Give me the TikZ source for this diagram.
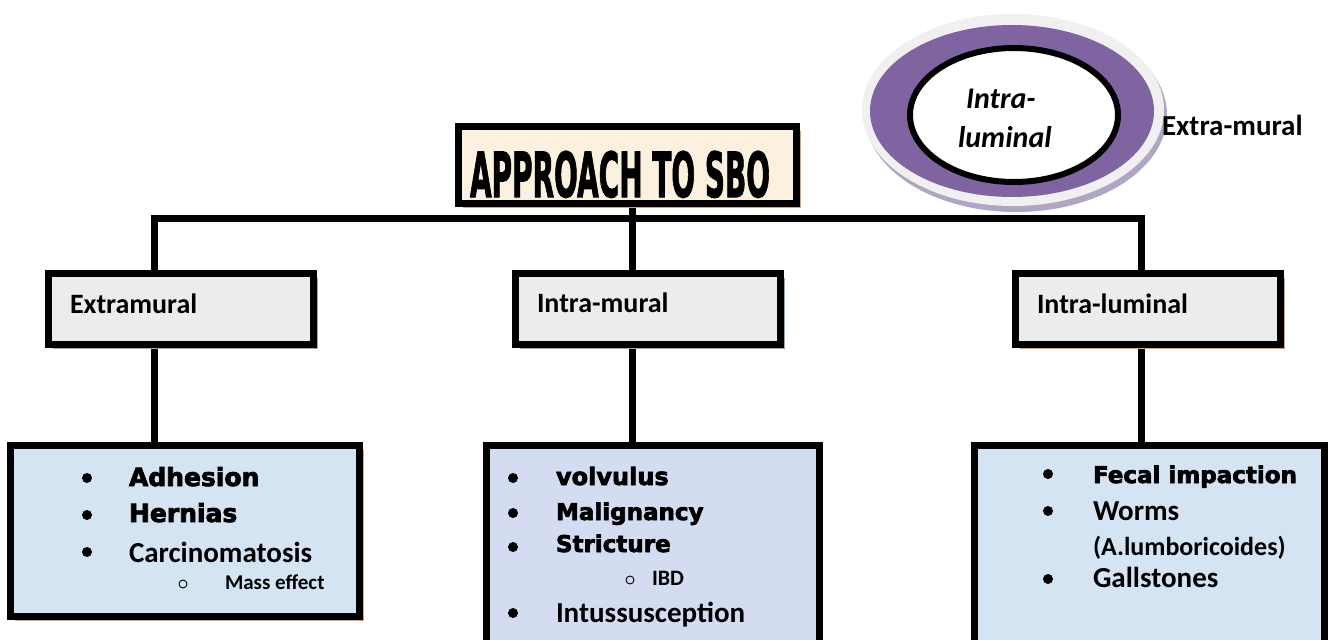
\documentclass[tikz,border=0pt]{standalone}
\usepackage{fontspec}
\usetikzlibrary{shadows,backgrounds}
\newfontfamily\calfont{Carlito}
\newfontfamily\heavyfont[FakeBold=3]{DejaVu Sans Bold}
\newfontfamily\titlefont[FakeBold=2]{DejaVu Sans Bold}
\definecolor{cream}{RGB}{252,240,222}
\definecolor{tanshadow}{RGB}{208,164,128}
\definecolor{greybox}{RGB}{236,236,236}
\definecolor{greyshadow}{RGB}{168,168,168}
\definecolor{blueshadow}{RGB}{140,168,186}
\definecolor{lightblue}{RGB}{213,228,243}
\definecolor{lavblue}{RGB}{212,220,241}
\definecolor{ofpurple}{RGB}{128,100,162}
\definecolor{bevel}{RGB}{240,240,240}
\definecolor{bevelshadow}{RGB}{176,166,196}
\tikzset{
  boxbase/.style={draw=black, line width=6.5pt, rectangle, inner sep=0pt, outer sep=0pt, anchor=north west},
  titlebox/.style={boxbase, fill=cream, minimum width=338pt, minimum height=77pt,
     general shadow={fill=tanshadow, shadow xshift=4pt, shadow yshift=-4pt}},
  lvlbox/.style={boxbase, fill=greybox, minimum width=265pt, minimum height=71pt},
  botbox/.style={boxbase, minimum height=171pt},
  conn/.style={line width=7pt, draw=black},
  lbl/.style={anchor=base west, inner sep=0pt, outer sep=0pt},
  dot/.style={circle, fill=black, inner sep=0pt, minimum size=10pt},
  odot/.style={circle, draw=black, line width=0.9pt, inner sep=0pt, minimum size=8pt},
}
\newcommand{\calb}[1]{\fontsize{#1}{#1}\selectfont\calfont\bfseries}
\newcommand{\hvy}[1]{\fontsize{#1}{#1}\selectfont\heavyfont}
\begin{document}
\begin{tikzpicture}[x=1pt,y=-1pt]
\useasboundingbox (0,0) rectangle (1331,640);

% ---- ellipse graphic ----
\fill[bevelshadow] (1016,115) ellipse [x radius=151, y radius=97];
\fill[bevel] (1013,110) ellipse [x radius=151, y radius=96];
\fill[ofpurple] (1012,111) ellipse [x radius=142, y radius=86];
\fill[white, draw=black, line width=6pt] (1014,115) ellipse [x radius=104, y radius=67];
\node[lbl] (ia) at (966,108) {\calb{30}\itshape Intra-};
\node[lbl] (ib) at (958,147) {\calb{30}\itshape luminal};
\node[lbl] (em) at (1162,135) {\calb{29}Extra-mural};

% ---- boxes ----
\node[titlebox] (title) at (458.5,126.5) {};
\node[lvlbox, general shadow={fill=greyshadow, shadow xshift=4pt, shadow yshift=-4pt}] (ext) at (48.5,273.5) {};
\node[lvlbox, general shadow={fill=blueshadow, shadow xshift=4pt, shadow yshift=-4pt}] (imu) at (515.5,273.5) {};
\node[lvlbox, general shadow={fill=tanshadow, shadow xshift=4pt, shadow yshift=-4pt}] (ilu) at (1015.5,273.5) {};
\node[botbox, fill=lightblue, minimum width=349pt,
      general shadow={fill=tanshadow, shadow xshift=4pt, shadow yshift=-4pt}] (bl) at (10.5,445.5) {};
\node[botbox, fill=lavblue, minimum width=333pt, minimum height=260pt] (bm) at (486.5,445.5) {};
\node[botbox, fill=lightblue, minimum width=350pt, minimum height=260pt] (br) at (974.5,445.5) {};

% ---- connectors ----
\coordinate (jL) at (154,218);
\coordinate (jM) at (632,218);
\coordinate (jR) at (1141,218);
\begin{scope}[on background layer]
\fill[white] (0,0) rectangle (1331,640);
\draw[conn] ([xshift=-3.5pt]jL) -- ([xshift=3.5pt]jR);
\draw[conn] (title.south -| jM) -- (jM);
\draw[conn] (jL) -- (jL |- ext.north);
\draw[conn] (jM) -- (jM |- imu.north);
\draw[conn] (jR) -- (jR |- ilu.north);
\draw[conn] (jL |- ext.south) -- (jL |- bl.north);
\draw[conn] (jM |- imu.south) -- (jM |- bm.north);
\draw[conn] (jR |- ilu.south) -- (jR |- br.north);
\end{scope}

% ---- title text ----
\node[lbl] (tt) at (470,197) {\resizebox*{300pt}{47pt}{\titlefont APPROACH TO SBO}};

% ---- level 2 labels ----
\node[lbl] (t1) at (70,313) {\calb{28}Extramural};
\node[lbl] (t2) at (537,312) {\calb{28}Intra-mural};
\node[lbl] (t3) at (1037,313) {\calb{28}Intra-luminal};

% ---- left bottom box ----
\node[dot] (b1) at (87,478) {};
\node[dot] (b2) at (87,515) {};
\node[dot] (b3) at (87,552) {};
\node[odot] (c1) at (183,584) {};
\node[lbl] (l1) at (129,486) {\hvy{25}Adhesion};
\node[lbl] (l2) at (129,522) {\hvy{25}Hernias};
\node[lbl] (l3) at (129,562) {\calb{29}Carcinomatosis};
\node[lbl] (l4) at (225,589) {\calb{21}Mass effect};

% ---- middle bottom box ----
\node[dot] (m1) at (513,478) {};
\node[dot] (m2) at (513,513) {};
\node[dot] (m3) at (513,547) {};
\node[odot] (mc) at (630,580) {};
\node[dot] (m4) at (513,613) {};
\node[lbl] (n1) at (556,485) {\hvy{24}volvulus};
\node[lbl] (n2) at (556,520) {\hvy{23}Malignancy};
\node[lbl] (n3) at (556,552) {\hvy{23}Stricture};
\node[lbl] (n4) at (652,585) {\calb{22}IBD};
\node[lbl] (n5) at (556,622) {\calb{29}Intussusception};

% ---- right bottom box ----
\node[dot] (r1) at (1048,474) {};
\node[dot] (r2) at (1048,511) {};
\node[dot] (r3) at (1048,579) {};
\node[lbl] (s1) at (1093,483) {\hvy{23}Fecal impaction};
\node[lbl] (s2) at (1093,520) {\calb{29}Worms};
\node[lbl] (s3) at (1093,555) {\calb{26}(A.lumboricoides)};
\node[lbl] (s4) at (1093,587) {\calb{29}Gallstones};
\end{tikzpicture}
\end{document}
